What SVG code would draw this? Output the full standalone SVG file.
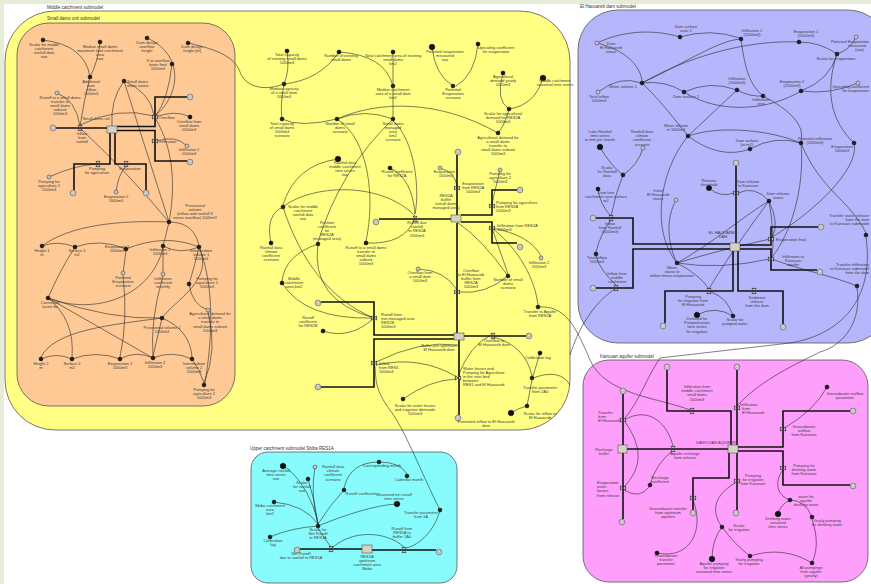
<svg xmlns="http://www.w3.org/2000/svg" width="871" height="584" viewBox="0 0 871 584">
<style>
.t{font-family:"Liberation Sans",Arial,sans-serif;font-size:4px;fill:#3c3c3c;text-anchor:middle}
.s{text-anchor:start}
.e{text-anchor:end}
.pl{font-family:"Liberation Sans",Arial,sans-serif;font-size:4.5px;fill:#333}
.c{fill:none;stroke:#2a2a2a;stroke-width:0.6}
.p{fill:none;stroke:#111;stroke-width:1.6}
.a{fill:#1e1e1e;stroke:#000;stroke-width:0.4}
.g{fill:#c4c4c4;stroke:#4a4a4a;stroke-width:0.6}
.b{fill:#111;stroke:#000;stroke-width:0.5}
.st{fill:#d6d2c6;stroke:#555;stroke-width:0.6}
.v{fill:#eee;stroke:#000;stroke-width:0.6}
.panel{stroke:#555;stroke-width:0.8}
</style>
<defs>
<g id="cl"><circle cx="0" cy="0" r="2.9" fill="#cfcfcf" stroke="#555" stroke-width="0.6"/><circle cx="0" cy="-0.9" r="1.3" fill="#f2f2f2" stroke="#777" stroke-width="0.4"/></g>
<polygon id="vh" class="v" points="-2,-2.6 2,-2.6 -2,2.6 2,2.6"/>
<polygon id="vw" class="v" points="-2.6,-2 2.6,2 2.6,-2 -2.6,2"/>
</defs>
<rect x="0" y="0" width="871" height="584" fill="#fff"/>
<rect x="0" y="0" width="871" height="4" fill="#e6ecd8"/>
<rect x="0" y="0" width="4" height="584" fill="#e6ecd8"/>

<g id="panels">
<rect class="panel" x="5" y="11" width="565" height="419" rx="50" fill="#ffff84"/>
<rect class="panel" x="17" y="23" width="218" height="383" rx="32" fill="#fec994"/>
<rect class="panel" x="578" y="10" width="310" height="333" rx="40" fill="#b6b6fc"/>
<rect class="panel" x="583" y="360" width="285" height="222" rx="26" fill="#fe9ffc"/>
<rect class="panel" x="251" y="452" width="206" height="131" rx="17" fill="#88fcfc"/>
<text class="pl" x="47" y="8.5">Middle catchment submodel</text>
<text class="pl" x="47" y="20">Small dams unit submodel</text>
<text class="pl" x="580" y="7.5">El Haouareb dam submodel</text>
<text class="pl" x="600" y="357.5">Kairouan aquifer submodel</text>
<text class="pl" x="250" y="449.5">Upper catchment submodel Sbiba RES1A</text>
</g>

<g id="connectors">
<g id="links">
<path class="c" d="M43,40 Q85,45 90,77"/>
<path class="c" d="M100,42 Q98,62 90,77"/>
<path class="c" d="M90,77 Q84,100 80,126"/>
<path class="c" d="M57,93 Q76,100 80,126"/>
<path class="c" d="M147,38 C185,55 180,95 156,115"/>
<path class="c" d="M172,64 Q168,100 156,115"/>
<path class="c" d="M188,43 C220,50 235,58 240,72 S262,92 284,84"/>
<path class="c" d="M124,81 Q110,100 112,126"/>
<path class="c" d="M124,81 Q150,92 154,115"/>
<path class="c" d="M124,81 L169,222"/>
<path class="c" d="M80,128 Q130,175 169,222"/>
<path class="c" d="M80,125 Q118,106 154,116"/>
<path class="c" d="M155,117 Q175,110 188,116"/>
<path class="c" d="M157,141 Q175,135 186,145"/>
<path class="c" d="M49,177 Q75,165 97,164"/>
<path class="c" d="M116,192 Q118,175 126,166"/>
<path class="c" d="M155,118 C175,150 175,190 169,222"/>
<path class="c" d="M169,222 C120,220 70,225 42,246"/>
<path class="c" d="M169,222 Q195,222 199,247"/>
<path class="c" d="M169,222 Q166,235 163,246"/>
<path class="c" d="M42,246 Q58,240 75,247"/>
<path class="c" d="M75,247 Q100,238 126,249"/>
<path class="c" d="M126,249 Q165,233 199,247"/>
<path class="c" d="M163,246 Q180,255 199,247"/>
<path class="c" d="M75,247 Q60,270 48,298"/>
<path class="c" d="M123,273 L126,251"/>
<path class="c" d="M163,274 L163,248"/>
<path class="c" d="M199,247 Q195,265 189,284"/>
<path class="c" d="M199,247 C215,280 175,300 162,318"/>
<path class="c" d="M189,284 Q192,305 208,310"/>
<path class="c" d="M48,298 L153,358"/>
<path class="c" d="M48,298 C90,315 150,300 163,248"/>
<path class="c" d="M48,298 Q75,320 72,357"/>
<path class="c" d="M48,298 Q110,320 162,318"/>
<path class="c" d="M162,318 C110,325 55,330 41,357"/>
<path class="c" d="M162,318 L153,356"/>
<path class="c" d="M162,318 Q190,330 192,357"/>
<path class="c" d="M41,359 Q56,352 72,359"/>
<path class="c" d="M72,359 Q96,350 120,359"/>
<path class="c" d="M120,359 Q136,350 153,358"/>
<path class="c" d="M153,358 Q172,350 192,359"/>
<path class="c" d="M123,275 Q128,320 120,357"/>
<path class="c" d="M163,276 Q150,320 153,356"/>
<path class="c" d="M192,359 Q200,370 204,383"/>
<path class="c" d="M208,312 Q218,350 204,383"/>
<path class="c" d="M200,249 C215,290 212,340 205,383"/>

<path class="c" d="M287,51 Q290,70 284,84"/>
<path class="c" d="M339,52 Q320,80 284,84"/>
<path class="c" d="M339,52 Q385,55 393,86"/>
<path class="c" d="M393,52 L393,84"/>
<path class="c" d="M432,47 Q435,75 453,86"/>
<path class="c" d="M478,44 Q475,75 456,86"/>
<path class="c" d="M284,84 Q280,105 282,119"/>
<path class="c" d="M282,119 Q300,128 337,119"/>
<path class="c" d="M393,119 Q365,108 337,119"/>
<path class="c" d="M393,88 L393,117"/>
<path class="c" d="M337,119 C380,100 440,100 498,133"/>
<path class="c" d="M503,73 Q495,100 509,109"/>
<path class="c" d="M543,78 Q535,105 509,109"/>
<path class="c" d="M509,109 Q505,125 498,133"/>
<path class="c" d="M337,119 C370,140 375,200 366,241"/>
<path class="c" d="M393,119 Q340,170 318,242"/>
<path class="c" d="M393,121 C415,140 420,190 415,214"/>
<path class="c" d="M338,159 Q295,165 283,205"/>
<path class="c" d="M390,168 Q412,178 415,214"/>
<path class="c" d="M440,168 Q455,172 457,186"/>
<path class="c" d="M500,170 Q495,190 492,204"/>
<path class="c" d="M283,207 C310,185 380,180 415,216"/>
<path class="c" d="M271,243 Q265,215 283,207"/>
<path class="c" d="M283,207 C300,260 330,300 374,318"/>
<path class="c" d="M318,244 Q310,300 374,318"/>
<path class="c" d="M318,244 Q285,255 282,281"/>
<path class="c" d="M282,283 Q305,320 374,318"/>
<path class="c" d="M323,331 Q350,340 374,318"/>
<path class="c" d="M366,243 Q405,245 415,218"/>
<path class="c" d="M418,269 Q445,270 457,290"/>
<path class="c" d="M376,362 Q420,340 458,345"/>
<path class="c" d="M376,365 Q420,355 457,377"/>
<path class="c" d="M440,510 C420,470 405,430 390,410 S376,380 375,366"/>
<path class="c" d="M403,399 Q430,380 456,379"/>
<path class="c" d="M492,228 Q530,235 541,256"/>
<path class="c" d="M492,228 L508,274"/>
<path class="c" d="M457,222 Q483,240 508,276"/>
<path class="c" d="M508,276 Q485,295 459,292"/>
<path class="c" d="M538,307 C565,305 575,325 590,360 S660,398 690,410"/>
<path class="c" d="M492,228 C520,250 535,280 538,305"/>
<path class="c" d="M540,353 L533,376"/>
<path class="c" d="M493,337 Q525,345 532,376"/>
<path class="c" d="M458,376 Q470,345 491,335"/>
<path class="c" d="M533,378 Q560,368 570,385"/>
<path class="c" d="M527,406 L532,380"/>
<path class="c" d="M511,413 Q518,408 527,406"/>
<path class="c" d="M616,288 C592,304 578,330 570,355"/>

<path class="c" d="M597,43 C620,32 650,28 680,37"/>
<path class="c" d="M597,43 C625,50 640,65 642,81"/>
<path class="c" d="M598,92 Q620,75 641,83"/>
<path class="c" d="M642,83 C690,60 720,40 741,39"/>
<path class="c" d="M642,83 C700,50 760,40 799,42"/>
<path class="c" d="M680,37 Q710,28 740,38"/>
<path class="c" d="M741,39 C745,70 750,85 763,96"/>
<path class="c" d="M799,42 Q820,42 837,54"/>
<path class="c" d="M856,37 Q850,50 837,54"/>
<path class="c" d="M837,54 Q830,80 801,91"/>
<path class="c" d="M837,54 C825,90 830,120 854,143"/>
<path class="c" d="M642,83 Q665,80 684,92"/>
<path class="c" d="M684,92 Q710,80 737,90"/>
<path class="c" d="M684,92 C720,115 770,110 801,91"/>
<path class="c" d="M737,90 Q750,97 763,96"/>
<path class="c" d="M801,91 Q830,95 858,83"/>
<path class="c" d="M642,83 C660,100 675,120 688,136"/>
<path class="c" d="M688,136 L737,90"/>
<path class="c" d="M688,136 C720,125 770,130 801,143"/>
<path class="c" d="M688,136 Q720,160 750,149"/>
<path class="c" d="M750,149 Q775,135 801,143"/>
<path class="c" d="M763,96 C790,110 805,125 801,141"/>
<path class="c" d="M854,143 C860,170 810,215 772,237"/>
<path class="c" d="M801,143 C805,190 790,235 772,257"/>
<path class="c" d="M600,147 Q610,165 623,175"/>
<path class="c" d="M643,148 Q638,165 623,175"/>
<path class="c" d="M623,175 Q615,195 611,216"/>
<path class="c" d="M598,189 Q600,205 611,216"/>
<path class="c" d="M611,220 Q600,235 596,252"/>
<path class="c" d="M616,285 Q600,270 596,256"/>
<path class="c" d="M709,188 Q720,198 734,193"/>
<path class="c" d="M738,193 Q755,185 769,201"/>
<path class="c" d="M769,201 C745,215 710,245 677,263"/>
<path class="c" d="M769,201 C740,240 720,270 709,289"/>
<path class="c" d="M769,201 Q780,225 772,237"/>
<path class="c" d="M769,201 Q775,235 772,257"/>
<path class="c" d="M676,200 C665,220 668,245 677,263"/>
<path class="c" d="M677,263 Q720,250 770,239"/>
<path class="c" d="M677,263 Q720,270 770,259"/>
<path class="c" d="M677,263 Q700,275 709,289"/>
<path class="c" d="M697,315 Q715,305 733,316"/>
<path class="c" d="M733,316 Q728,298 711,292"/>
<path class="c" d="M688,136 C660,170 650,230 677,263"/>
<path class="c" d="M801,143 C820,190 850,200 866,233"/>
<path class="c" d="M772,259 C800,270 830,275 857,286"/>
<path class="c" d="M857,288 C862,320 845,345 820,352 C800,362 760,380 737,406"/>
<path class="c" d="M866,237 C875,300 840,335 790,343 L660,358 C648,375 640,400 625,418"/>

<path class="c" d="M624,420 C650,405 668,425 673,446"/>
<path class="c" d="M650,485 Q655,465 673,450"/>
<path class="c" d="M625,422 C645,450 640,470 624,487"/>
<path class="c" d="M624,490 Q640,500 650,486"/>
<path class="c" d="M827,387 Q815,410 783,429"/>
<path class="c" d="M790,500 C775,495 775,480 783,470"/>
<path class="c" d="M778,514 Q780,505 790,500"/>
<path class="c" d="M812,517 Q805,500 790,500"/>
<path class="c" d="M812,563 C820,545 815,530 812,519"/>
<path class="c" d="M812,563 C790,550 770,550 750,556"/>
<path class="c" d="M750,556 Q735,545 722,527"/>
<path class="c" d="M712,559 Q712,540 722,527"/>
<path class="c" d="M722,527 C710,510 715,495 735,483"/>
<path class="c" d="M657,553 C690,560 705,530 693,500"/>

<path class="c" d="M283,466 C300,475 315,505 318,524"/>
<path class="c" d="M308,479 Q315,500 318,524"/>
<path class="c" d="M315,467 Q310,495 318,524"/>
<path class="c" d="M344,490 Q330,505 318,524"/>
<path class="c" d="M379,462 Q350,462 344,488"/>
<path class="c" d="M379,462 Q400,462 407,474"/>
<path class="c" d="M318,526 C345,515 375,505 397,504"/>
<path class="c" d="M274,502 Q305,505 318,524"/>
<path class="c" d="M270,537 Q290,528 318,526"/>
<path class="c" d="M318,528 Q325,540 331,547"/>
<path class="c" d="M331,549 C350,530 385,530 404,547"/>
<path class="c" d="M440,510 C435,530 420,545 406,548"/>
</g>
<g id="flows">
<path class="p" d="M56,128 H107"/>
<path class="p" d="M117,126.5 H155 V97 H187"/>
<path class="p" d="M117,130.5 H155 V161 H187"/>
<path class="p" d="M110,132 V164 H74 V190"/>
<path class="p" d="M115,132 V164 H146 V190"/>
<path class="p" d="M457,155 V215"/>
<path class="p" d="M461,215 H492 V190 H517"/>
<path class="p" d="M461,222 H492 V243 H517"/>
<path class="p" d="M379,219 H451"/>
<path class="p" d="M457,223 V333"/>
<path class="p" d="M321,302 H374 V335 H454"/>
<path class="p" d="M321,387 H374 V339 H454"/>
<path class="p" d="M464,336 H526"/>
<path class="p" d="M459,340 V415"/>
<path class="p" d="M596,218 H633 V244 H730"/>
<path class="p" d="M596,288 H633 V249 H730"/>
<path class="p" d="M736,166 V243"/>
<path class="p" d="M740,245 H771 V227 H818"/>
<path class="p" d="M740,249 H771 V270 H817"/>
<path class="p" d="M733,251 V291 H665 V323"/>
<path class="p" d="M738,251 V291 H783 V324"/>
<path class="p" d="M623,394 V445"/>
<path class="p" d="M623,453 V519"/>
<path class="p" d="M627,449 H728"/>
<path class="p" d="M667,370 V411 H731 V445"/>
<path class="p" d="M737,370 V445"/>
<path class="p" d="M738,447 H783 V411 H850"/>
<path class="p" d="M738,451 H783 V485 H850"/>
<path class="p" d="M737,453 V510"/>
<path class="p" d="M729,453 V478 H693 V510"/>
<path class="p" d="M300,549 H362"/>
<path class="p" d="M372,550 H436" stroke="#1f4f4f"/>
</g>
</g>

<!-- small dams unit -->
<g id="o1"><circle class="a" cx="43" cy="40" r="2"/><text class="t" x="44" y="45.5"><tspan x="44">Scalar for middle</tspan><tspan x="44" dy="4.2">catchment</tspan><tspan x="44" dy="4.2">rainfall data</tspan><tspan x="44" dy="4.2">raw</tspan></text></g>
<g id="o2"><circle class="a" cx="100" cy="42" r="2"/><text class="t" x="100" y="47.5"><tspan x="100">Median small dams</tspan><tspan x="100" dy="4.2">maximum total catchment</tspan><tspan x="100" dy="4.2">area</tspan><tspan x="100" dy="4.2">raw</tspan></text></g>
<g id="o3"><circle class="a" cx="90" cy="77" r="2"/><text class="t" x="91" y="82.5"><tspan x="91">Additional</tspan><tspan x="91" dy="4.2">dam</tspan><tspan x="91" dy="4.2">inflow</tspan><tspan x="91" dy="4.2">1000m3</tspan></text></g>
<g id="o4"><circle class="a" cx="147" cy="38" r="2"/><text class="t" x="147" y="43.5"><tspan x="147">Dam design</tspan><tspan x="147" dy="4.2">overflow</tspan><tspan x="147" dy="4.2">height</tspan></text></g>
<g id="o5"><circle class="a" cx="188" cy="43" r="2"/><text class="t" x="192" y="48"><tspan x="192">Dam design</tspan><tspan x="192" dy="4.2">height [m]</tspan></text></g>
<g id="o6"><circle class="a" cx="172" cy="64" r="2"/><text class="t" x="158" y="61.5"><tspan x="158">V at overflow</tspan><tspan x="158" dy="4.2">lower limit</tspan><tspan x="158" dy="4.2">1000m3</tspan></text></g>
<g id="o7"><circle class="a" cx="124" cy="81" r="2"/><text class="t s" x="127" y="82.5"><tspan x="127">Small dams</tspan><tspan x="127" dy="4.2">water status</tspan></text></g>
<g id="o8"><circle class="g" cx="57" cy="93" r="2"/><text class="t" x="60" y="98.5"><tspan x="60">Runoff to a small dams</tspan><tspan x="60" dy="4.2">transfer to</tspan><tspan x="60" dy="4.2">small dams</tspan><tspan x="60" dy="4.2">subunit</tspan><tspan x="60" dy="4.2">1000m3</tspan></text></g>
<g id="s1"><rect class="st" x="107" y="126" width="10" height="7"/><text class="t" x="96" y="119.5">Small dams vol</text></g>
<g id="c1"><use href="#cl" x="53" y="128"/></g>
<g id="v1"><use href="#vh" x="80" y="128"/><text class="t" x="82" y="135"><tspan x="82">Inflow</tspan><tspan x="82" dy="4.2">from</tspan><tspan x="82" dy="4.2">rainfall</tspan></text></g>
<g id="v2"><use href="#vw" x="155" y="117"/><text class="t s" x="159" y="118.5">Overflow</text></g>
<g id="o9"><circle class="b" cx="190" cy="117" r="2"/><text class="t" x="189" y="122.5"><tspan x="189">Overflow from</tspan><tspan x="189" dy="4.2">small dams</tspan><tspan x="189" dy="4.2">1000m3</tspan></text></g>
<g id="c2"><use href="#cl" x="190" y="97"/></g>
<g id="v3"><use href="#vw" x="155" y="141"/><text class="t s" x="159" y="142.5">Infiltration</text></g>
<g id="o10"><circle class="g" cx="187" cy="146" r="2"/><text class="t" x="189" y="151"><tspan x="189">Infiltration 2</tspan><tspan x="189" dy="4.2">1000m3</tspan></text></g>
<g id="c3"><use href="#cl" x="190" y="162"/></g>
<g id="v4"><use href="#vh" x="98" y="164"/><text class="t" x="97" y="170"><tspan x="97">Pumping</tspan><tspan x="97" dy="4.2">for agriculture</tspan></text></g>
<g id="v5"><use href="#vh" x="126" y="164"/><text class="t" x="130" y="170">Evaporation</text></g>
<g id="c4"><use href="#cl" x="73" y="193"/></g>
<g id="c5"><use href="#cl" x="146" y="193"/></g>
<g id="o11"><circle class="g" cx="49" cy="177" r="2"/><text class="t" x="49" y="182.5"><tspan x="49">Pumping for</tspan><tspan x="49" dy="4.2">agriculture 2</tspan><tspan x="49" dy="4.2">1000m3</tspan></text></g>
<g id="o12"><circle class="g" cx="116" cy="192" r="2"/><text class="t" x="116" y="197.5"><tspan x="116">Evaporation 2</tspan><tspan x="116" dy="4.2">1000m3</tspan></text></g>
<g id="o13"><circle class="a" cx="169" cy="222" r="2"/><text class="t" x="195" y="206.5"><tspan x="195">Provisional</tspan><tspan x="195" dy="4.2">volume</tspan><tspan x="195" dy="4.2">(inflow and rainfall V</tspan><tspan x="195" dy="4.2">minus overflow) 1000m3</tspan></text></g>
<g id="o14"><circle class="a" cx="42" cy="246" r="2"/><text class="t" x="42" y="251.5"><tspan x="42">Height 1</tspan><tspan x="42" dy="4.2">m</tspan></text></g>
<g id="o15"><circle class="a" cx="75" cy="247" r="2"/><text class="t" x="77" y="252"><tspan x="77">Surface 1</tspan><tspan x="77" dy="4.2">m2</tspan></text></g>
<g id="o16"><circle class="a" cx="126" cy="249" r="2"/><text class="t" x="117" y="247.5"><tspan x="117">Evaporation 1</tspan><tspan x="117" dy="4.2">1000m3</tspan></text></g>
<g id="o17"><circle class="a" cx="163" cy="246" r="2"/><text class="t" x="160" y="250.5"><tspan x="160">Infiltration 1</tspan><tspan x="160" dy="4.2">1000m3</tspan></text></g>
<g id="o18"><circle class="a" cx="199" cy="247" r="2"/><text class="t" x="201" y="251.5"><tspan x="201">Intermediate</tspan><tspan x="201" dy="4.2">volume 1</tspan><tspan x="201" dy="4.2">1000m3</tspan></text></g>
<g id="o19"><circle class="g" cx="123" cy="273" r="2"/><text class="t" x="123" y="279"><tspan x="123">Potential</tspan><tspan x="123" dy="4.2">Evaporation</tspan><tspan x="123" dy="4.2">scenario</tspan></text></g>
<g id="o20"><circle class="g" cx="163" cy="274" r="2"/><text class="t" x="163" y="279.5"><tspan x="163">Infiltration</tspan><tspan x="163" dy="4.2">coefficient</tspan><tspan x="163" dy="4.2">monthly</tspan></text></g>
<g id="o21"><circle class="a" cx="189" cy="284" r="2"/><text class="t" x="207" y="279.5"><tspan x="207">Pumping for</tspan><tspan x="207" dy="4.2">agriculture 1</tspan><tspan x="207" dy="4.2">1000m3</tspan></text></g>
<g id="o22"><circle class="a" cx="48" cy="298" r="2"/><text class="t" x="50" y="303.5"><tspan x="50">Correction</tspan><tspan x="50" dy="4.2">factor for</tspan></text></g>
<g id="o23"><circle class="g" cx="208" cy="310" r="2"/><text class="t" x="210" y="315"><tspan x="210">Agricultural demand for</tspan><tspan x="210" dy="4.2">a small dams</tspan><tspan x="210" dy="4.2">transfer to</tspan><tspan x="210" dy="4.2">small dams subunit</tspan><tspan x="210" dy="4.2">1000m3</tspan></text></g>
<g id="o24"><circle class="a" cx="162" cy="318" r="2"/><text class="t" x="162" y="328.5"><tspan x="162">Provisional volume 2</tspan><tspan x="162" dy="4.2">1000m3</tspan></text></g>
<g id="o25"><circle class="a" cx="41" cy="359" r="2"/><text class="t" x="41" y="364.5"><tspan x="41">Height 2</tspan><tspan x="41" dy="4.2">m</tspan></text></g>
<g id="o26"><circle class="a" cx="72" cy="359" r="2"/><text class="t" x="72" y="364.5"><tspan x="72">Surface 2</tspan><tspan x="72" dy="4.2">m2</tspan></text></g>
<g id="o27"><circle class="a" cx="120" cy="359" r="2"/><text class="t" x="120" y="364.5"><tspan x="120">Evaporation 2</tspan><tspan x="120" dy="4.2">1000m3</tspan></text></g>
<g id="o28"><circle class="a" cx="153" cy="358" r="2"/><text class="t" x="155" y="364"><tspan x="155">Infiltration 2</tspan><tspan x="155" dy="4.2">1000m3</tspan></text></g>
<g id="o29"><circle class="a" cx="192" cy="359" r="2"/><text class="t" x="194" y="364.5"><tspan x="194">Intermediate</tspan><tspan x="194" dy="4.2">volume 2</tspan><tspan x="194" dy="4.2">1000m3</tspan></text></g>
<g id="o30"><circle class="a" cx="204" cy="385" r="2"/><text class="t" x="204" y="391"><tspan x="204">Pumping for</tspan><tspan x="204" dy="4.2">agriculture 2</tspan><tspan x="204" dy="4.2">1000m3</tspan></text></g>

<!-- middle catchment -->
<g id="y1"><circle class="b" cx="287" cy="51" r="2"/><text class="t" x="287" y="56"><tspan x="287">Total capacity</tspan><tspan x="287" dy="4.2">of existing small dams</tspan><tspan x="287" dy="4.2">1000m3</tspan></text></g>
<g id="y2"><circle class="b" cx="339" cy="52" r="2"/><text class="t" x="341" y="56.5"><tspan x="341">Number of existing</tspan><tspan x="341" dy="4.2">small dams</tspan></text></g>
<g id="y3"><circle class="b" cx="393" cy="52" r="2"/><text class="t" x="393" y="56.5"><tspan x="393">Total catchment area of existing</tspan><tspan x="393" dy="4.2">small dams</tspan><tspan x="393" dy="4.2">km2</tspan></text></g>
<g id="y4"><circle class="b" cx="432" cy="47" r="2.8"/><text class="t" x="445" y="53"><tspan x="445">Potential evaporation</tspan><tspan x="445" dy="4.2">measured</tspan><tspan x="445" dy="4.2">raw</tspan></text></g>
<g id="y5"><circle class="b" cx="478" cy="44" r="2"/><text class="t" x="496" y="49"><tspan x="496">Upscaling coefficient</tspan><tspan x="496" dy="4.2">for evaporation</tspan></text></g>
<g id="y6"><circle class="a" cx="284" cy="84" r="2"/><text class="t" x="284" y="89.5"><tspan x="284">Median capacity</tspan><tspan x="284" dy="4.2">of a small dam</tspan><tspan x="284" dy="4.2">1000m3</tspan></text></g>
<g id="y7"><circle class="a" cx="393" cy="86" r="2"/><text class="t" x="393" y="91"><tspan x="393">Median catchment</tspan><tspan x="393" dy="4.2">area of a small dam</tspan><tspan x="393" dy="4.2">km2</tspan></text></g>
<g id="y8"><circle class="a" cx="453" cy="86" r="2"/><text class="t" x="453" y="91"><tspan x="453">Potential</tspan><tspan x="453" dy="4.2">Evaporation</tspan><tspan x="453" dy="4.2">scenario</tspan></text></g>
<g id="y9"><circle class="b" cx="503" cy="73" r="2"/><text class="t" x="503" y="78"><tspan x="503">Agricultural</tspan><tspan x="503" dy="4.2">demand yearly</tspan><tspan x="503" dy="4.2">1000m3</tspan></text></g>
<g id="y10"><circle class="b" cx="543" cy="78" r="2.8"/><text class="t" x="555" y="81.5"><tspan x="555">Middle catchment</tspan><tspan x="555" dy="4.2">seasonal time series</tspan></text></g>
<g id="y11"><circle class="a" cx="509" cy="109" r="2"/><text class="t" x="503" y="114.5"><tspan x="503">Scalar for agricultural</tspan><tspan x="503" dy="4.2">demand for RES2A</tspan><tspan x="503" dy="4.2">1000m3</tspan></text></g>
<g id="y12"><circle class="a" cx="498" cy="133" r="2"/><text class="t" x="498" y="138.5"><tspan x="498">Agricultural demand for</tspan><tspan x="498" dy="4.2">a small dams</tspan><tspan x="498" dy="4.2">transfer to</tspan><tspan x="498" dy="4.2">small dams subunit</tspan><tspan x="498" dy="4.2">1000m3</tspan></text></g>
<g id="y13"><circle class="a" cx="282" cy="119" r="2"/><text class="t" x="282" y="124.5"><tspan x="282">Total capacity</tspan><tspan x="282" dy="4.2">of small dams</tspan><tspan x="282" dy="4.2">1000m3</tspan><tspan x="282" dy="4.2">scenario</tspan></text></g>
<g id="y14"><circle class="a" cx="337" cy="119" r="2"/><text class="t" x="340" y="124.5"><tspan x="340">Number of small</tspan><tspan x="340" dy="4.2">dams</tspan><tspan x="340" dy="4.2">scenario</tspan></text></g>
<g id="y15"><circle class="a" cx="393" cy="119" r="2"/><text class="t" x="393" y="124.5"><tspan x="393">Small dams</tspan><tspan x="393" dy="4.2">managed</tspan><tspan x="393" dy="4.2">area</tspan><tspan x="393" dy="4.2">km2</tspan><tspan x="393" dy="4.2">scenario</tspan></text></g>
<g id="y16"><circle class="b" cx="338" cy="159" r="2.8"/><text class="t" x="345" y="163.5"><tspan x="345">Rainfall data</tspan><tspan x="345" dy="4.2">middle catchment</tspan><tspan x="345" dy="4.2">time series</tspan><tspan x="345" dy="4.2">raw</tspan></text></g>
<g id="y17"><circle class="b" cx="390" cy="168" r="2"/><text class="t" x="397" y="172.5"><tspan x="397">Runoff coefficient</tspan><tspan x="397" dy="4.2">for RES2A</tspan></text></g>
<g id="y18"><circle class="g" cx="440" cy="168" r="2"/><text class="t" x="446" y="172.5"><tspan x="446">Evaporation 2</tspan><tspan x="446" dy="4.2">1000m3</tspan></text></g>
<g id="y19"><use href="#cl" x="458" y="152"/></g>
<g id="y20"><circle class="g" cx="500" cy="170" r="2"/><text class="t" x="500" y="175"><tspan x="500">Pumping for</tspan><tspan x="500" dy="4.2">agriculture 2</tspan><tspan x="500" dy="4.2">1000m3</tspan></text></g>
<g id="y21"><use href="#vw" x="457" y="188"/><text class="t" x="473" y="184.5"><tspan x="473">Evaporation</tspan><tspan x="473" dy="4.2">from RES2A</tspan><tspan x="473" dy="4.2">1000m3</tspan></text></g>
<g id="y22"><use href="#cl" x="520" y="190"/></g>
<g id="sA"><rect class="st" x="451" y="215" width="10" height="7"/><text class="t" x="446" y="196.5"><tspan x="446">RES2A</tspan><tspan x="446" dy="4.2">buffer</tspan><tspan x="446" dy="4.2">(small dams</tspan><tspan x="446" dy="4.2">managed area)</tspan></text></g>
<g id="y23"><use href="#vw" x="492" y="206"/><text class="t s" x="496" y="204"><tspan x="496">Pumping for agriculture</tspan><tspan x="496" dy="4.2">from RES2A</tspan><tspan x="496" dy="4.2">1000m3</tspan></text></g>
<g id="y24"><use href="#vw" x="492" y="228"/><text class="t s" x="497" y="227"><tspan x="497">Infiltration from RES2A</tspan><tspan x="497" dy="4.2">1000m3</tspan></text></g>
<g id="y25"><use href="#cl" x="520" y="247"/></g>
<g id="y26"><use href="#vh" x="415" y="219"/><text class="t" x="417" y="224"><tspan x="417">Runoff due</tspan><tspan x="417" dy="4.2">rainfall</tspan><tspan x="417" dy="4.2">to RES2A</tspan><tspan x="417" dy="4.2">1000m3</tspan></text></g>
<g id="y27"><use href="#cl" x="376" y="222"/></g>
<g id="y28"><circle class="a" cx="283" cy="207" r="2"/><text class="t" x="303" y="207.5"><tspan x="303">Scalar for middle</tspan><tspan x="303" dy="4.2">catchment</tspan><tspan x="303" dy="4.2">rainfall data</tspan><tspan x="303" dy="4.2">raw</tspan></text></g>
<g id="y29"><circle class="a" cx="318" cy="244" r="2"/><text class="t" x="327" y="223.5"><tspan x="327">Partition</tspan><tspan x="327" dy="4.2">coefficient</tspan><tspan x="327" dy="4.2">for</tspan><tspan x="327" dy="4.2">RES2A</tspan><tspan x="327" dy="4.2">(managed area)</tspan></text></g>
<g id="y30"><circle class="b" cx="271" cy="243" r="2"/><text class="t" x="271" y="248.5"><tspan x="271">Rainfall data</tspan><tspan x="271" dy="4.2">climate</tspan><tspan x="271" dy="4.2">coefficient</tspan><tspan x="271" dy="4.2">scenario</tspan></text></g>
<g id="y31"><circle class="b" cx="366" cy="243" r="2"/><text class="t" x="366" y="248.5"><tspan x="366">Runoff to a small dams</tspan><tspan x="366" dy="4.2">transfer to</tspan><tspan x="366" dy="4.2">small dams</tspan><tspan x="366" dy="4.2">subunit</tspan><tspan x="366" dy="4.2">1000m3</tspan></text></g>
<g id="y32"><circle class="b" cx="282" cy="283" r="2"/><text class="t" x="294" y="279.5"><tspan x="294">Middle</tspan><tspan x="294" dy="4.2">catchment</tspan><tspan x="294" dy="4.2">area km2</tspan></text></g>
<g id="y33"><circle class="g" cx="418" cy="269" r="2"/><text class="t" x="420" y="273.5"><tspan x="420">Overflow from</tspan><tspan x="420" dy="4.2">a small dam</tspan><tspan x="420" dy="4.2">1000m3</tspan></text></g>
<g id="y34"><use href="#cl" x="318" y="303"/></g>
<g id="y35"><use href="#vw" x="374" y="318"/><text class="t s" x="381" y="315.5"><tspan x="381">Runoff from</tspan><tspan x="381" dy="4.2">non managed area</tspan><tspan x="381" dy="4.2">RES2B</tspan><tspan x="381" dy="4.2">1000m3</tspan></text></g>
<g id="y36"><circle class="b" cx="323" cy="331" r="2"/><text class="t" x="308" y="318.5"><tspan x="308">Runoff</tspan><tspan x="308" dy="4.2">coefficient</tspan><tspan x="308" dy="4.2">for RES2B</tspan></text></g>
<g id="sB"><rect class="st" x="454" y="333" width="10" height="7"/><text class="t" x="439" y="347"><tspan x="439">Buffer just upstream</tspan><tspan x="439" dy="4.2">El Haouareb dam</tspan></text></g>
<g id="y37"><use href="#cl" x="318" y="387"/></g>
<g id="y38"><use href="#vw" x="374" y="363"/><text class="t s" x="379" y="364.5"><tspan x="379">Inflow</tspan><tspan x="379" dy="4.2">from RES1</tspan><tspan x="379" dy="4.2">1000m3</tspan></text></g>
<g id="y39"><use href="#vw" x="457" y="292"/><text class="t" x="471" y="271.5"><tspan x="471">Overflow</tspan><tspan x="471" dy="4.2">to El Haouareb</tspan><tspan x="471" dy="4.2">buffer from</tspan><tspan x="471" dy="4.2">RES2A</tspan><tspan x="471" dy="4.2">1000m3</tspan></text></g>
<g id="y40"><circle class="a" cx="508" cy="276" r="2"/><text class="t" x="508" y="281"><tspan x="508">Number of small</tspan><tspan x="508" dy="4.2">dams</tspan><tspan x="508" dy="4.2">scenario</tspan></text></g>
<g id="y41"><circle class="g" cx="541" cy="258" r="2"/><text class="t" x="539" y="264"><tspan x="539">Infiltration 2</tspan><tspan x="539" dy="4.2">1000m3</tspan></text></g>
<g id="y42"><circle class="a" cx="538" cy="307" r="2"/><text class="t" x="540" y="312.5"><tspan x="540">Transfer to Aquifer</tspan><tspan x="540" dy="4.2">from RES2A</tspan></text></g>
<g id="y43"><use href="#vh" x="493" y="336"/><text class="t" x="494" y="341.5"><tspan x="494">Overflow to</tspan><tspan x="494" dy="4.2">El Haouareb dam</tspan></text></g>
<g id="y44"><use href="#cl" x="529" y="336"/></g>
<g id="y45"><circle class="b" cx="540" cy="353" r="2"/><text class="t" x="538" y="358.5">Calibration lag</text></g>
<g id="y46"><use href="#vw" x="458" y="378"/><text class="t s" x="463" y="369.5"><tspan x="463">Water losses and</tspan><tspan x="463" dy="4.2">Pumping for Agriculture</tspan><tspan x="463" dy="4.2">in the river bed</tspan><tspan x="463" dy="4.2">between</tspan><tspan x="463" dy="4.2">RES1 and El Haouareb</tspan></text></g>
<g id="y47"><circle class="a" cx="532" cy="378" r="2"/><text class="t" x="540" y="388.5"><tspan x="540">Transfer parameter</tspan><tspan x="540" dy="4.2">from 2A0</tspan></text></g>
<g id="y48"><circle class="a" cx="527" cy="406" r="2"/><text class="t" x="540" y="415"><tspan x="540">Scalar for inflow to</tspan><tspan x="540" dy="4.2">El Haouareb</tspan></text></g>
<g id="y49"><circle class="b" cx="511" cy="413" r="2.8"/></g>
<g id="y50"><use href="#cl" x="458" y="418"/><text class="t" x="486" y="422.5"><tspan x="486">Estimated inflow to El Haouareb</tspan><tspan x="486" dy="4">dam</tspan></text></g>
<g id="y51"><circle class="a" cx="403" cy="399" r="2"/><text class="t" x="415" y="406.5"><tspan x="415">Scalar for water losses</tspan><tspan x="415" dy="4.2">and irrigation demands</tspan><tspan x="415" dy="4.2">1000m3</tspan></text></g>

<!-- El Haouareb dam -->
<g id="b1"><circle class="g" cx="597" cy="43" r="2"/><text class="t" x="611" y="44.5"><tspan x="611">Dam</tspan><tspan x="611" dy="4.2">El Haouareb</tspan><tspan x="611" dy="4.2">status</tspan></text></g>
<g id="b2"><circle class="a" cx="642" cy="83" r="2"/><text class="t" x="623" y="87.5">Water volume 1</text></g>
<g id="b3"><circle class="g" cx="598" cy="92" r="2"/><text class="t" x="599" y="97.5"><tspan x="599">Total inflow</tspan><tspan x="599" dy="4.2">1000m3</tspan></text></g>
<g id="b4"><circle class="a" cx="680" cy="37" r="2"/><text class="t" x="686" y="28"><tspan x="686">Dam surface</tspan><tspan x="686" dy="4.2">area 1</tspan></text></g>
<g id="b5"><circle class="a" cx="741" cy="39" r="2"/><text class="t" x="752" y="32"><tspan x="752">Infiltration 1</tspan><tspan x="752" dy="4.2">(1000m3)</tspan></text></g>
<g id="b6"><circle class="a" cx="799" cy="42" r="2"/><text class="t" x="806" y="33"><tspan x="806">Evaporation 1</tspan><tspan x="806" dy="4.2">(1000m3)</tspan></text></g>
<g id="b7"><circle class="g" cx="856" cy="37" r="2"/><text class="t e" x="869" y="43"><tspan x="869">Potential Evaporation</tspan><tspan x="866" dy="4.2">measured</tspan><tspan x="864" dy="4.2">(raw)</tspan></text></g>
<g id="b8"><circle class="a" cx="837" cy="54" r="2"/><text class="t" x="836" y="59.5">Scalar for evaporation</text></g>
<g id="b9"><circle class="a" cx="684" cy="92" r="2"/><text class="t" x="686" y="97.5">Dam surface 2</text></g>
<g id="b10"><circle class="a" cx="737" cy="90" r="2"/><text class="t" x="737" y="80"><tspan x="737">Infiltration</tspan><tspan x="737" dy="4.2">(1000m3)</tspan></text></g>
<g id="b11"><circle class="a" cx="763" cy="96" r="2"/><text class="t" x="761" y="100.5"><tspan x="761">Infiltration</tspan><tspan x="761" dy="4.2">rest</tspan></text></g>
<g id="b12"><circle class="a" cx="801" cy="91" r="2"/><text class="t" x="792" y="83"><tspan x="792">Evaporation 2</tspan><tspan x="792" dy="4.2">(1000m3)</tspan></text></g>
<g id="b13"><circle class="g" cx="858" cy="83" r="2"/><text class="t e" x="869" y="88"><tspan x="869">Upscaling coefficient</tspan><tspan x="869" dy="4.2">for evaporation</tspan></text></g>
<g id="b14"><circle class="a" cx="688" cy="136" r="2"/><text class="t" x="676" y="127"><tspan x="676">Water volume</tspan><tspan x="676" dy="4.2">in 1000m3</tspan></text></g>
<g id="b15"><circle class="a" cx="750" cy="149" r="2"/><text class="t" x="747" y="142"><tspan x="747">Dam surface</tspan><tspan x="747" dy="4.2">(in m2)</tspan></text></g>
<g id="b16"><circle class="a" cx="801" cy="143" r="2"/><text class="t" x="815" y="140"><tspan x="815">Potential infiltration</tspan><tspan x="815" dy="4.2">(1000m3)</tspan></text></g>
<g id="b17"><circle class="a" cx="854" cy="143" r="2"/><text class="t" x="842" y="147.5"><tspan x="842">Evaporation</tspan><tspan x="842" dy="4.2">1000m3</tspan></text></g>
<g id="b18"><circle class="b" cx="600" cy="147" r="2.8"/><text class="t" x="600" y="133"><tspan x="600">Lake Rainfall</tspan><tspan x="600" dy="4.2">time series</tspan><tspan x="600" dy="4.2">in mm per month</tspan></text></g>
<g id="b19"><circle class="g" cx="643" cy="148" r="2"/><text class="t" x="642" y="133"><tspan x="642">Rainfall data</tspan><tspan x="642" dy="4.2">climate</tspan><tspan x="642" dy="4.2">coefficient</tspan><tspan x="642" dy="4.2">scenario</tspan></text></g>
<g id="b20"><circle class="a" cx="623" cy="175" r="2"/><text class="t" x="607" y="169"><tspan x="607">Scalar</tspan><tspan x="607" dy="4.2">for Rainfall</tspan><tspan x="607" dy="4.2">data</tspan></text></g>
<g id="b21"><circle class="b" cx="598" cy="189" r="2"/><text class="t" x="606" y="194"><tspan x="606">Dam free</tspan><tspan x="606" dy="4.2">catchment area surface</tspan><tspan x="606" dy="4.2">m2</tspan></text></g>
<g id="b22"><use href="#cl" x="736" y="163"/></g>
<g id="b23"><circle class="b" cx="709" cy="188" r="2.6"/><text class="t" x="709" y="181.5"><tspan x="709">Release</tspan><tspan x="709" dy="4.2">threshold</tspan></text></g>
<g id="b24"><use href="#vw" x="736" y="193"/><text class="t" x="748" y="183"><tspan x="748">Dam release</tspan><tspan x="748" dy="4.2">to Kairouan</tspan></text></g>
<g id="b25"><circle class="a" cx="769" cy="201" r="2"/><text class="t" x="778" y="195"><tspan x="778">Dam release</tspan><tspan x="778" dy="4.2">status</tspan></text></g>
<g id="b26"><circle class="g" cx="676" cy="200" r="2"/><text class="t" x="658" y="192"><tspan x="658">Initial</tspan><tspan x="658" dy="4.2">El Haouareb</tspan><tspan x="658" dy="4.2">status</tspan></text></g>
<g id="sD"><rect class="st" x="730" y="243" width="10" height="8"/><text class="t" x="723" y="234"><tspan x="723">EL HAOUAREB</tspan><tspan x="723" dy="4.2">DAM</tspan></text></g>
<g id="b27"><use href="#vw" x="771" y="239"/><text class="t s" x="776" y="240.5">Evaporation final</text></g>
<g id="b28"><use href="#cl" x="821" y="227"/></g>
<g id="b29"><use href="#vw" x="771" y="259"/><text class="t" x="793" y="257.5"><tspan x="793">Infiltration to</tspan><tspan x="793" dy="4.2">Kairouan</tspan><tspan x="793" dy="4.2">aquifer</tspan></text></g>
<g id="b30"><use href="#cl" x="820" y="272"/></g>
<g id="b31"><circle class="a" cx="677" cy="263" r="2"/><text class="t" x="672" y="269"><tspan x="672">Water</tspan><tspan x="672" dy="4.2">status to</tspan><tspan x="672" dy="4.2">inflow minus evaporation</tspan></text></g>
<g id="b32"><use href="#vh" x="709" y="291"/><text class="t" x="693" y="298"><tspan x="693">Pumping</tspan><tspan x="693" dy="4.2">for irrigation from</tspan><tspan x="693" dy="4.2">El Haouareb</tspan></text></g>
<g id="b33"><use href="#vh" x="754" y="291"/><text class="t" x="757" y="298.5"><tspan x="757">Sediment</tspan><tspan x="757" dy="4.2">release</tspan><tspan x="757" dy="4.2">from the dam</tspan></text></g>
<g id="b34"><use href="#cl" x="663" y="326"/></g>
<g id="b35"><use href="#cl" x="783" y="327"/></g>
<g id="b36"><circle class="b" cx="697" cy="315" r="2.8"/><text class="t" x="697" y="320"><tspan x="697">Demand for</tspan><tspan x="697" dy="4.2">Pumped water</tspan><tspan x="697" dy="4.2">time series</tspan><tspan x="697" dy="4.2">for irrigation</tspan></text></g>
<g id="b37"><circle class="a" cx="733" cy="316" r="2"/><text class="t" x="735" y="320.5"><tspan x="735">Scalar for</tspan><tspan x="735" dy="4.2">pumped water</tspan></text></g>
<g id="b38"><circle class="a" cx="866" cy="235" r="2"/><text class="t e" x="869" y="217"><tspan x="869">Transfer water release</tspan><tspan x="869" dy="4.2">from the dam</tspan><tspan x="869" dy="4.2">to Kairouan submodel</tspan></text></g>
<g id="b39"><circle class="a" cx="857" cy="286" r="2"/><text class="t e" x="869" y="266"><tspan x="869">Transfer infiltration</tspan><tspan x="869" dy="4.2">to Kairouan submodel</tspan><tspan x="869" dy="4.2">from the dam</tspan></text></g>
<g id="b40"><use href="#cl" x="593" y="218"/></g>
<g id="b41"><use href="#vh" x="611" y="218"/><text class="t" x="610" y="224.5"><tspan x="610">Inflow</tspan><tspan x="610" dy="4.2">from Rainfall</tspan><tspan x="610" dy="4.2">(1000m3)</tspan></text></g>
<g id="b42"><circle class="a" cx="596" cy="254" r="2"/><text class="t" x="597" y="259"><tspan x="597">Total inflow</tspan><tspan x="597" dy="4.2">1000m3</tspan></text></g>
<g id="b43"><use href="#cl" x="593" y="288"/></g>
<g id="b44"><use href="#vh" x="616" y="288"/><text class="t" x="617" y="274.5"><tspan x="617">Inflow from</tspan><tspan x="617" dy="4.2">middle</tspan><tspan x="617" dy="4.2">catchment</tspan></text></g>

<!-- Kairouan aquifer -->
<g id="p1"><use href="#cl" x="623" y="391"/></g>
<g id="p2"><use href="#vw" x="623" y="420"/><text class="t s" x="598" y="413.5"><tspan x="598">Transfer</tspan><tspan x="598" dy="4.2">from</tspan><tspan x="598" dy="4.2">El Haouareb</tspan></text></g>
<g id="sR"><rect class="st" x="618" y="445" width="9" height="8"/><text class="t" x="604" y="450.5"><tspan x="604">Recharge</tspan><tspan x="604" dy="4.2">buffer</tspan></text></g>
<g id="p3"><use href="#vw" x="623" y="488"/><text class="t s" x="597" y="484"><tspan x="597">Evaporation</tspan><tspan x="597" dy="4.2">water</tspan><tspan x="597" dy="4.2">losses</tspan><tspan x="597" dy="4.2">from release</tspan></text></g>
<g id="p4"><use href="#cl" x="622" y="522"/></g>
<g id="p5"><use href="#vh" x="673" y="449"/><text class="t" x="685" y="454.5"><tspan x="685">Aquifer recharge</tspan><tspan x="685" dy="4.2">from release</tspan></text></g>
<g id="p6"><circle class="a" cx="650" cy="485" r="2"/><text class="t" x="660" y="478.5"><tspan x="660">Recharge</tspan><tspan x="660" dy="4.2">coefficient</tspan></text></g>
<g id="sK"><rect class="st" x="728" y="445" width="10" height="8"/><text class="t" x="716" y="443.5">KAIROUAN AQUIFER</text></g>
<g id="p7"><use href="#cl" x="667" y="367"/></g>
<g id="p8"><use href="#cl" x="737" y="367"/></g>
<g id="p9"><use href="#vh" x="692" y="411"/><text class="t" x="697" y="388"><tspan x="697">Infiltration from</tspan><tspan x="697" dy="4.2">middle catchment</tspan><tspan x="697" dy="4.2">small dams</tspan><tspan x="697" dy="4.2">1000m3</tspan></text></g>
<g id="p10"><use href="#vw" x="737" y="408"/><text class="t s" x="740" y="405.5"><tspan x="740">Infiltration</tspan><tspan x="742" dy="4.2">from</tspan><tspan x="742" dy="4.2">El Haouareb</tspan></text></g>
<g id="p11"><circle class="b" cx="827" cy="387" r="2"/><text class="t" x="845" y="394.5"><tspan x="845">Groundwater outflow</tspan><tspan x="845" dy="4.2">parameter</tspan></text></g>
<g id="p12"><use href="#vw" x="783" y="429"/><text class="t" x="804" y="428"><tspan x="804">Groundwater</tspan><tspan x="804" dy="4.2">outflow</tspan><tspan x="804" dy="4.2">from Kairouan</tspan></text></g>
<g id="p13"><use href="#cl" x="853" y="411"/></g>
<g id="p14"><use href="#cl" x="853" y="486"/></g>
<g id="p15"><use href="#vw" x="783" y="468"/><text class="t" x="804" y="466.5"><tspan x="804">Pumping for</tspan><tspan x="804" dy="4.2">drinking water</tspan><tspan x="804" dy="4.2">from Kairouan</tspan></text></g>
<g id="p16"><use href="#vw" x="737" y="481"/><text class="t" x="753" y="477"><tspan x="753">Pumping</tspan><tspan x="753" dy="4.2">for irrigation</tspan><tspan x="753" dy="4.2">from Kairouan</tspan></text></g>
<g id="p17"><use href="#cl" x="736" y="513"/></g>
<g id="p18"><use href="#vw" x="693" y="498"/><text class="t" x="668" y="510"><tspan x="668">Groundwater transfer</tspan><tspan x="668" dy="4.2">from upstream</tspan><tspan x="668" dy="4.2">aquifers</tspan></text></g>
<g id="p19"><use href="#cl" x="693" y="513"/></g>
<g id="p20"><circle class="a" cx="790" cy="500" r="2"/><text class="t" x="806" y="498"><tspan x="806">water for</tspan><tspan x="806" dy="4.2">aquifer</tspan><tspan x="806" dy="4.2">drinking water</tspan></text></g>
<g id="p21"><circle class="b" cx="778" cy="514" r="2.8"/><text class="t" x="778" y="520"><tspan x="778">Drinking water</tspan><tspan x="778" dy="4.2">seasonal</tspan><tspan x="778" dy="4.2">time series</tspan></text></g>
<g id="p22"><circle class="a" cx="812" cy="517" r="2"/><text class="t" x="827" y="522"><tspan x="827">Yearly pumping</tspan><tspan x="827" dy="4.2">for drinking water</tspan></text></g>
<g id="p23"><circle class="a" cx="722" cy="527" r="2"/><text class="t" x="739" y="526.5"><tspan x="739">Scalar</tspan><tspan x="739" dy="4.2">for irrigation</tspan></text></g>
<g id="p24"><circle class="b" cx="657" cy="553" r="2"/><text class="t" x="666" y="557"><tspan x="666">Groundwater</tspan><tspan x="666" dy="4.2">transfer</tspan><tspan x="666" dy="4.2">parameter</tspan></text></g>
<g id="p25"><circle class="b" cx="712" cy="559" r="2.8"/><text class="t" x="714" y="565"><tspan x="714">Aquifer pumping</tspan><tspan x="714" dy="4.2">for irrigation</tspan><tspan x="714" dy="4.2">seasonal time series</tspan></text></g>
<g id="p26"><circle class="a" cx="750" cy="556" r="2"/><text class="t" x="749" y="561"><tspan x="749">Yearly pumping</tspan><tspan x="749" dy="4.2">for irrigation</tspan></text></g>
<g id="p27"><circle class="a" cx="812" cy="563" r="2"/><text class="t" x="811" y="569"><tspan x="811">All pumpings</tspan><tspan x="811" dy="4.2">from aquifer</tspan><tspan x="811" dy="4.2">(yearly)</tspan></text></g>

<!-- Upper catchment -->
<g id="q1"><circle class="b" cx="283" cy="466" r="2.8"/><text class="t" x="276" y="472"><tspan x="276">Average rainfall</tspan><tspan x="276" dy="4.2">time series</tspan><tspan x="276" dy="4.2">raw</tspan></text></g>
<g id="q2"><circle class="a" cx="308" cy="479" r="2"/><text class="t" x="302" y="484"><tspan x="302">Scalar</tspan><tspan x="302" dy="4.2">for rainfall</tspan><tspan x="302" dy="4.2">raw</tspan></text></g>
<g id="q3"><circle class="g" cx="315" cy="467" r="2"/><text class="t" x="333" y="468"><tspan x="333">Rainfall data</tspan><tspan x="333" dy="4.2">climate</tspan><tspan x="333" dy="4.2">coefficient</tspan><tspan x="333" dy="4.2">scenario</tspan></text></g>
<g id="q4"><circle class="a" cx="344" cy="490" r="2"/><text class="t" x="361" y="494.5">Runoff coefficient</text></g>
<g id="q5"><circle class="a" cx="379" cy="462" r="2"/><text class="t" x="382" y="467">Corresponding month</text></g>
<g id="q6"><circle class="a" cx="407" cy="476" r="2"/><text class="t" x="409" y="481">Calendar month</text></g>
<g id="q7"><circle class="b" cx="397" cy="504" r="2.8"/><text class="t" x="394" y="496"><tspan x="394">Measured net runoff</tspan><tspan x="394" dy="4.2">time series</tspan></text></g>
<g id="q8"><circle class="a" cx="274" cy="502" r="2"/><text class="t" x="270" y="506.5"><tspan x="270">Sbiba catchment</tspan><tspan x="270" dy="4.2">area</tspan><tspan x="270" dy="4.2">km2</tspan></text></g>
<g id="q9"><circle class="a" cx="318" cy="526" r="2"/><text class="t" x="318" y="531"><tspan x="318">Scalar for</tspan><tspan x="318" dy="4.2">Net Runoff</tspan><tspan x="318" dy="4.2">to RES1A</tspan></text></g>
<g id="q10"><circle class="a" cx="270" cy="537" r="2"/><text class="t" x="273" y="542"><tspan x="273">Calibration</tspan><tspan x="273" dy="4.2">lag</tspan></text></g>
<g id="q11"><use href="#cl" x="297" y="550"/></g>
<g id="q12"><use href="#vh" x="331" y="549"/><text class="t" x="301" y="555"><tspan x="301">Net Runoff</tspan><tspan x="301" dy="4.2">due to rainfall to RES1A</tspan></text></g>
<g id="sS"><rect class="st" x="362" y="545" width="10" height="8"/><text class="t" x="367" y="558"><tspan x="367">RES1A</tspan><tspan x="367" dy="4">upstream</tspan><tspan x="367" dy="4">catchment area</tspan><tspan x="367" dy="4">Sbiba</tspan></text></g>
<g id="q13"><use href="#vh" x="404" y="550"/><text class="t" x="402" y="530"><tspan x="402">Runoff from</tspan><tspan x="402" dy="4.2">RES1A to</tspan><tspan x="402" dy="4.2">buffer 1A0</tspan></text></g>
<g id="q14"><use href="#cl" x="439" y="552"/></g>
<g id="q15"><circle class="a" cx="440" cy="510" r="2"/><text class="t" x="421" y="513.5"><tspan x="421">Transfer parameter</tspan><tspan x="421" dy="4.2">from 1A</tspan></text></g>
</svg>
